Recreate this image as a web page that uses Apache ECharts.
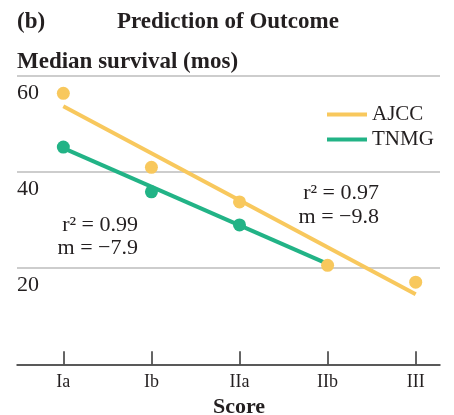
<!DOCTYPE html>
<html><head><meta charset="utf-8">
<script src="https://cdn.jsdelivr.net/npm/echarts@6/dist/echarts.min.js"></script>
<style>html,body{margin:0;padding:0;background:#fff}#c{width:454px;height:415px}</style>
</head><body><div id="c"></div>
<script>
// ---- data ----
const scoreLabels = ['Ia', 'Ib', 'IIa', 'IIb', 'III'];
const yTicks = [0, 20, 40, 60];
const ajccValues = [56.4, 41.0, 33.8, 20.6, 17.1];
const tnmgValues = [45.2, 35.9, 29.0];
// regression line end points [startIndex, startValue, endIndex, endValue]
const ajccFit = [0, 53.7, 4, 14.6];
const tnmgFit = [0, 45.0, 3, 20.9];
const ajccStats = ['r\u00b2 = 0.97', 'm = \u22129.8'];
const tnmgStats = ['r\u00b2 = 0.99', 'm = \u22127.9'];

const YEL = '#F8C85D', GRN = '#22B386', INK = '#231F20';
const SERIF = '"Liberation Serif", "DejaVu Serif", serif';

const chart = echarts.init(document.getElementById('c'), null, {renderer: 'canvas'});
const idx = scoreLabels.map((_, i) => i);
const pts = vals => vals.map((v, i) => [idx[i], v]);
const bold = {fontFamily: SERIF, fontSize: 23, fontWeight: 'bold', color: INK, lineHeight: 23};

chart.setOption({
  animation: false,
  textStyle: {fontFamily: SERIF, color: INK},
  title: [
    {text: '(b)', left: 17, top: 11, padding: 0, textStyle: bold},
    {text: 'Prediction of Outcome', left: 117, top: 11, padding: 0, textStyle: bold},
    {text: 'Median survival (mos)', left: 17, top: 51, padding: 0, textStyle: bold}
  ],
  legend: {
    orient: 'vertical', left: 327, top: 104, padding: 0, itemGap: 4,
    icon: 'rect', itemWidth: 40, itemHeight: 4, itemStyle: {borderWidth: 0},
    textStyle: {fontFamily: SERIF, fontSize: 21, color: INK, lineHeight: 21, padding: [0, 0, 0, 0]},
    data: ['AJCC', 'TNMG']
  },
  grid: {left: 17, right: 14, top: 76, bottom: 50.7, containLabel: false, outerBoundsMode: 'none'},
  xAxis: {
    type: 'value', min: -0.526, max: 4.276,
    name: 'Score', nameLocation: 'middle', nameGap: 32,
    nameTextStyle: {fontFamily: SERIF, fontSize: 22, fontWeight: 'bold', color: INK, padding: [0, 0, 0, 21]},
    axisLine: {show: true, onZero: false, lineStyle: {color: '#333', width: 1.5}},
    axisTick: {show: true, inside: true, length: 13, customValues: idx, lineStyle: {color: '#333', width: 1.5}},
    axisLabel: {customValues: idx, margin: 9, fontFamily: SERIF, fontSize: 18, color: INK,
      formatter: v => scoreLabels[Math.round(v)] || ''},
    splitLine: {show: false}
  },
  yAxis: {
    type: 'value', min: yTicks[0], max: yTicks[yTicks.length - 1], interval: 20,
    axisLine: {show: false}, axisTick: {show: false},
    axisLabel: {inside: true, margin: 0, align: 'left', verticalAlign: 'top', padding: [6, 0, 0, 0],
      lineHeight: 22, fontFamily: SERIF, fontSize: 22, color: INK,
      formatter: v => (v === 0 ? '' : String(v))},
    splitLine: {show: true, lineStyle: {color: '#BDBDBD', width: 1.5}}
  },
  series: [
    {name: 'AJCC', type: 'line', z: 2, symbol: 'none', color: YEL,
     lineStyle: {width: 4, color: YEL},
     data: [[ajccFit[0], ajccFit[1]], [ajccFit[2], ajccFit[3]]]},
    {name: 'TNMG', type: 'line', z: 2, symbol: 'none', color: GRN,
     lineStyle: {width: 4, color: GRN},
     data: [[tnmgFit[0], tnmgFit[1]], [tnmgFit[2], tnmgFit[3]]]},
    {name: 'TNMG', type: 'scatter', z: 3, symbolSize: 13, color: GRN,
     itemStyle: {color: GRN, opacity: 1}, data: pts(tnmgValues)},
    {name: 'AJCC', type: 'scatter', z: 4, symbolSize: 13, color: YEL,
     itemStyle: {color: YEL, opacity: 1}, data: pts(ajccValues)}
  ],
  graphic: [
    {type: 'text', x: 138, y: 225, style: {text: tnmgStats[0], font: '22px ' + SERIF, fill: INK, align: 'right', verticalAlign: 'middle'}},
    {type: 'text', x: 138, y: 248, style: {text: tnmgStats[1], font: '22px ' + SERIF, fill: INK, align: 'right', verticalAlign: 'middle'}},
    {type: 'text', x: 379, y: 193, style: {text: ajccStats[0], font: '22px ' + SERIF, fill: INK, align: 'right', verticalAlign: 'middle'}},
    {type: 'text', x: 379, y: 217, style: {text: ajccStats[1], font: '22px ' + SERIF, fill: INK, align: 'right', verticalAlign: 'middle'}}
  ]
});
</script></body></html>
